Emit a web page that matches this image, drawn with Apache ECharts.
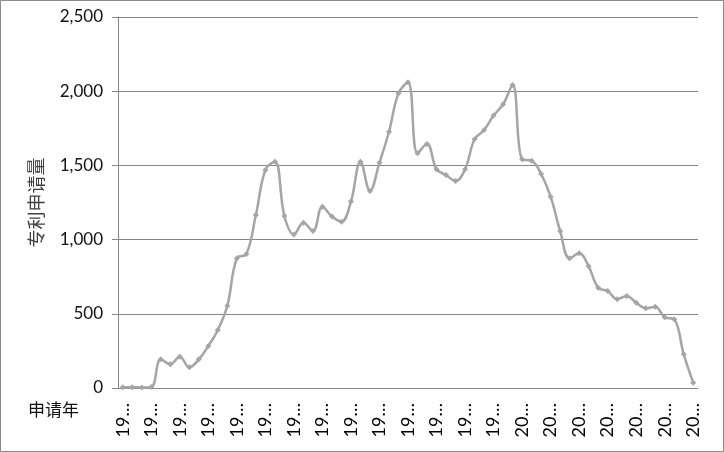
<!DOCTYPE html>
<html>
<head>
<meta charset="utf-8">
<script src="https://cdn.jsdelivr.net/npm/echarts@6/dist/echarts.min.js"></script>
<style>
html,body{margin:0;padding:0;background:#fff;}
#chart{width:724px;height:452px;}
</style>
</head>
<body>
<div id="chart"></div>
<script>
const years = ["1960","1961","1962","1963","1964","1965","1966","1967","1968","1969",
"1970","1971","1972","1973","1974","1975","1976","1977","1978","1979",
"1980","1981","1982","1983","1984","1985","1986","1987","1988","1989",
"1990","1991","1992","1993","1994","1995","1996","1997","1998","1999",
"2000","2001","2002","2003","2004","2005","2006","2007","2008","2009",
"2010","2011","2012","2013","2014","2015","2016","2017","2018","2019","2020"];
const applications = [5,5,4,6,193,160,211,139,193,283,
391,555,874,903,1166,1469,1525,1159,1035,1114,
1058,1222,1155,1121,1256,1525,1328,1518,1727,1986,
2060,1582,1644,1474,1435,1395,1474,1676,1739,1836,
1912,2042,1541,1532,1442,1289,1058,874,908,820,
676,654,598,620,575,537,548,476,463,227,36];
const yAxisTitle = "专利申请量";
const xAxisTitle = "申请年";

const FONT = "Lato, 'Noto Sans CJK SC', sans-serif";
const chart = echarts.init(document.getElementById('chart'), null, {renderer:'canvas'});
chart.setOption({
  animation:false,
  backgroundColor:'#fff',
  grid:{left:118,right:26,top:17,bottom:64},
  graphic:[
    {type:'rect',shape:{x:0.5,y:0.5,width:723,height:451},style:{fill:'none',stroke:'#8a8a8a',lineWidth:1},silent:true},
    {type:'text',left:28,top:401,style:{text:xAxisTitle,font:"17px 'Noto Sans CJK SC'",fill:'#111'}}
  ],
  xAxis:{
    type:'category',
    data:years,
    boundaryGap:true,
    axisLine:{lineStyle:{color:'#868686',width:1}},
    axisTick:{show:false},
    axisLabel:{interval:2,rotate:90,margin:15,fontSize:18,fontFamily:FONT,color:'#000',
      formatter:v=>v.slice(0,2)+'…'}
  },
  yAxis:{
    type:'value',min:0,max:2500,interval:500,
    name:yAxisTitle,nameLocation:'middle',nameRotate:90,nameGap:73,
    nameTextStyle:{fontSize:18,fontFamily:"'Noto Sans CJK SC'",color:'#404040'},
    axisLine:{show:true,lineStyle:{color:'#868686',width:1}},
    axisTick:{show:true,length:6,lineStyle:{color:'#868686'}},
    axisLabel:{margin:15,fontSize:17,fontFamily:FONT,color:'#111',
      formatter:v=>v.toLocaleString('en-US')},
    splitLine:{lineStyle:{color:'#868686',width:1}}
  },
  series:[{
    type:'line',
    data:applications,
    smooth:0.4,
    symbol:'diamond',
    symbolSize:6,
    lineStyle:{color:'#a5a5a5',width:2.5},
    itemStyle:{color:'#a5a5a5'}
  }]
});
</script>
</body>
</html>
